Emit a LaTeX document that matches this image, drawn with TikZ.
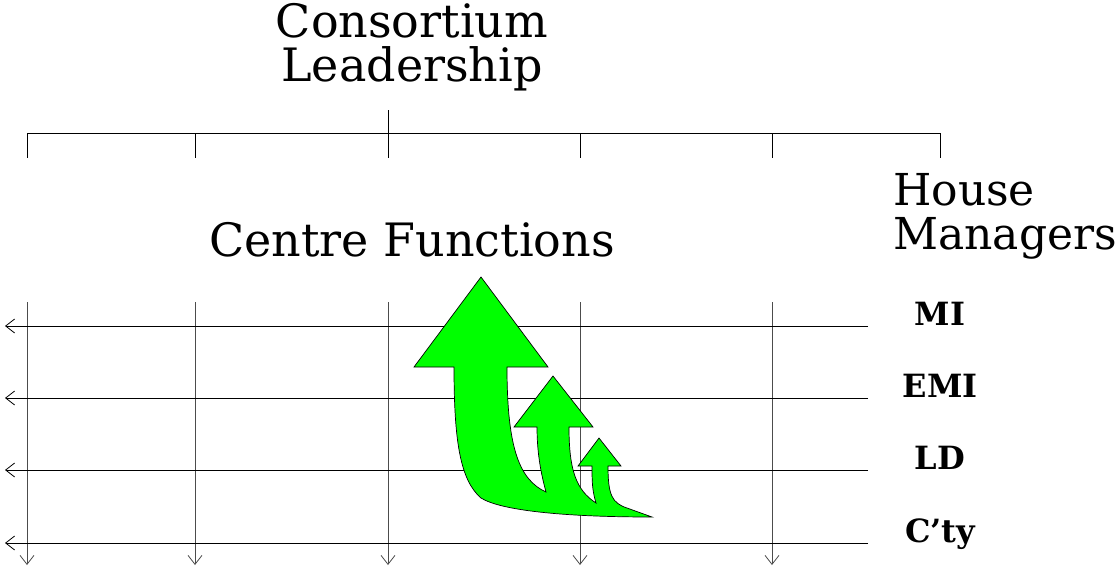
\documentclass[tikz,border=0pt]{standalone}
\usepackage{fontspec}
\setmainfont{DejaVu Serif}
\usetikzlibrary{arrows.meta,positioning,calc}

\begin{document}
\begin{tikzpicture}[
    x=1pt, y=-1pt,
    title/.style={font=\fontsize{46}{44}\selectfont, align=center, inner sep=0pt},
    house/.style={font=\fontsize{44}{44}\selectfont, align=left, inner sep=0pt},
    row/.style={font=\bfseries\fontsize{32}{34}\selectfont, inner sep=0pt, anchor=base},
    tree/.style={draw=black, line width=0.8pt},
    grid/.style={draw=black!70, line width=0.8pt, -{Straight Barb[length=9pt,width=14pt]}},
    growth/.style={draw=black, line width=0.7pt, fill={rgb,255:red,0;green,255;blue,0}}
]
    \useasboundingbox (0,0) rectangle (1120,566);

    \node[title] (LEAD) at (412,47) {Consortium\\Leadership};
    \node[title] (CENTRE) at (412,240) {Centre Functions};
    \node[house, anchor=west] (HOUSE) at (893,216) {House\\Managers};

    % top bracket
    \coordinate (stem) at (388,110);
    \coordinate (join) at (388,133);
    \draw[tree] (stem) -- (join);
    \foreach \i/\x in {1/27,2/195,3/388,4/580,5/772,6/940} {
        \coordinate (top\i) at (\x,133);
        \coordinate (foot\i) at (\x,158);
        \draw[tree] (top\i) -- (foot\i);
    }
    \draw[tree] (top1) -- (top6);

    % grid of functions and houses
    \foreach \i/\x in {1/27,2/195,3/388,4/580,5/772} {
        \coordinate (col\i) at (\x,302);
        \coordinate (colend\i) at (\x,565);
        \draw[grid] (col\i) -- (colend\i);
    }
    \foreach \name/\y/\txt in {MI/326/MI, EMI/398/EMI, LD/470/LD, CTY/543/C’ty} {
        \coordinate (row\name) at (868,\y);
        \coordinate (rowend\name) at (5,\y);
        \draw[grid, draw=black] (row\name) -- (rowend\name);
        \node[row] (\name) at (940,\y-1) {\txt};
    }

    % growth arrows
    \draw[growth] (652,517)
        .. controls (560,517) and (500,510) .. (481,498)
        .. controls (460,480) and (454,440) .. (454,367)
        -- (414,367) -- (481,277) -- (548,367) -- (507,367)
        .. controls (507,450) and (520,480) .. (546,492)
        .. controls (540,470) and (537,450) .. (537,427)
        -- (514,427) -- (553,376) -- (593,427) -- (569,427)
        .. controls (569,470) and (576,490) .. (596,503)
        .. controls (592,490) and (592,480) .. (592,466)
        -- (578,466) -- (599,438) -- (621,466) -- (608,466)
        .. controls (608,495) and (612,503) .. (627,508)
        -- cycle;
\end{tikzpicture}
\end{document}
